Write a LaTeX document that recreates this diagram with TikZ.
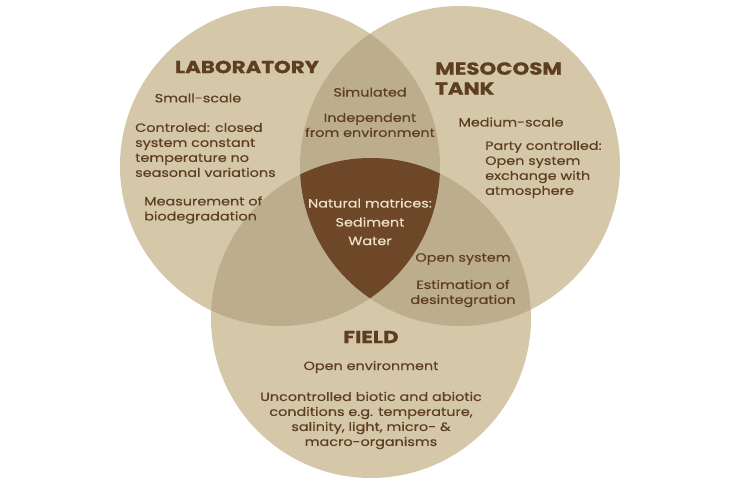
\documentclass[tikz,border=0pt]{standalone}
\usepackage{fontspec}
\setmainfont{Poppins}[FakeStretch=1.2, FakeBold=0.4]
\newfontfamily\titlefont{Poppins}[FakeStretch=1.22, BoldFeatures={FakeBold=0.8}]
\usepackage{xcolor}
\usepackage{tikz}
\usetikzlibrary{positioning}

\definecolor{basefill}{HTML}{D5C8A9}
\definecolor{pairfill}{HTML}{BCAE8D}
\definecolor{corefill}{HTML}{6D4728}
\definecolor{inkbrown}{HTML}{5E3E21}
\definecolor{corelight}{HTML}{EDE1C6}

\begin{document}
\begin{tikzpicture}[x=1pt, y=-1pt,
    title/.style={text=inkbrown, font=\titlefont\fontsize{17.5}{19}\selectfont\bfseries, inner sep=0pt},
    body/.style={text=inkbrown, font=\fontsize{12}{15}\selectfont, inner sep=0pt},
    corebody/.style={text=corelight, font=\fontsize{12}{15}\selectfont, inner sep=0pt}]
    \useasboundingbox[fill=white] (0,0) rectangle (741,486);

    % Circles
    \coordinate (lab) at (280,166);
    \coordinate (meso) at (460,166);
    \coordinate (field) at (371,318);
    \fill[basefill] (lab) circle[radius=160pt];
    \fill[basefill] (meso) circle[radius=160pt];
    \fill[basefill] (field) circle[radius=160pt];

    % Overlaps
    \begin{scope}
      \clip (lab) circle[radius=160pt];
      \fill[pairfill] (meso) circle[radius=160pt];
      \fill[pairfill] (field) circle[radius=160pt];
    \end{scope}
    \begin{scope}
      \clip (meso) circle[radius=160pt];
      \fill[pairfill] (field) circle[radius=160pt];
    \end{scope}
    \begin{scope}
      \clip (lab) circle[radius=160pt];
      \clip (meso) circle[radius=160pt];
      \fill[corefill] (field) circle[radius=160pt];
    \end{scope}

    % Laboratory
    \node[title] (labtitle) at (247,67) {LABORATORY};
    \node[body] (smallscale) at (198,98) {Small-scale};
    \node[body, align=left, anchor=west] (controled) at (135,150) {Controled: closed\\system constant\\temperature no\\seasonal variations};
    \node[body, align=left, anchor=west] (biodeg) at (144,210) {Measurement of\\biodegradation};

    % Laboratory and mesocosm
    \node[body] (simulated) at (370,92) {Simulated};
    \node[body, align=center] (independent) at (370,125) {Independent\\from environment};

    % Mesocosm tank
    \node[title, align=left, anchor=west] (mesotitle) at (435,78.5) {MESOCOSM\\[1pt]TANK};
    \node[body] (mediumscale) at (511,122) {Medium-scale};
    \node[body, align=left, anchor=west] (party) at (485,169.5) {Party controlled:\\Open system\\exchange with\\atmosphere};

    % Core
    \node[corebody] (natural) at (370,203) {Natural matrices:};
    \node[corebody] (sediment) at (370,222) {Sediment};
    \node[corebody] (water) at (370,241) {Water};

    % Mesocosm and field
    \node[body] (opensystem) at (463,259) {Open system};
    \node[body, align=center] (estimation) at (463,293.5) {Estimation of\\desintegration};

    % Field
    \node[title] (fieldtitle) at (371,337) {FIELD};
    \node[body] (openenv) at (371,367) {Open environment};
    \node[body, align=center] (uncontrolled) at (371,420.5) {Uncontrolled biotic and abiotic\\conditions e.g. temperature,\\salinity, light, micro- \&\\macro-organisms};
\end{tikzpicture}
\end{document}
